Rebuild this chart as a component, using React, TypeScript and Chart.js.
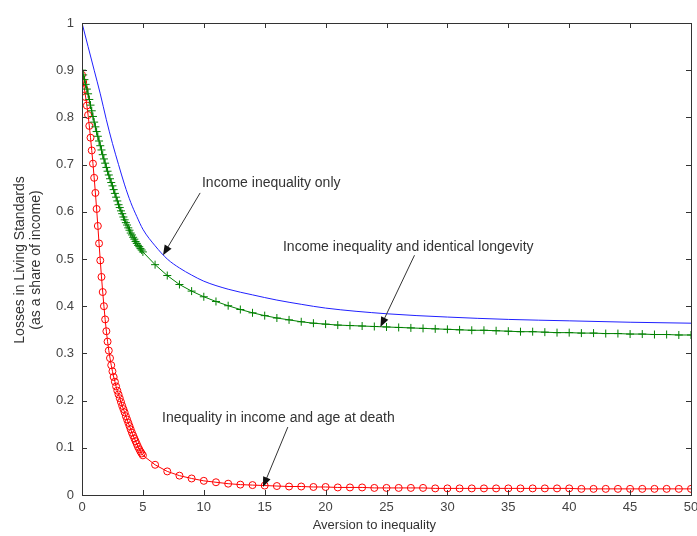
import { useEffect, useRef } from "react";
import { Chart, registerables } from "chart.js";

Chart.register(...registerables);

// Aversion to inequality (x) — dense sampling 0..5, then integer steps 6..50
const denseX = [
  0, 0.1, 0.2, 0.3, 0.4, 0.5, 0.6, 0.7, 0.8, 0.9, 1.0, 1.1, 1.2, 1.3, 1.4, 1.5, 1.6, 1.7, 1.8, 1.9,
  2.0, 2.1, 2.2, 2.3, 2.4, 2.5, 2.6, 2.7, 2.8, 2.9, 3.0, 3.1, 3.2, 3.3, 3.4, 3.5, 3.6, 3.7, 3.8, 3.9,
  4.0, 4.1, 4.2, 4.3, 4.4, 4.5, 4.6, 4.7, 4.8, 4.9, 5.0,
];
const sparseX = [
  6, 7, 8, 9, 10, 11, 12, 13, 14, 15, 16, 17, 18, 19, 20, 21, 22, 23, 24, 25, 26, 27, 28, 29, 30,
  31, 32, 33, 34, 35, 36, 37, 38, 39, 40, 41, 42, 43, 44, 45, 46, 47, 48, 49, 50,
];

// Income inequality and identical longevity (green, +)
const greenDense = [
  0.9, 0.89, 0.88, 0.87, 0.86, 0.85, 0.838, 0.826, 0.814, 0.802, 0.79, 0.78, 0.77, 0.76, 0.75, 0.74,
  0.731, 0.721, 0.712, 0.703, 0.694, 0.686, 0.678, 0.67, 0.662, 0.655, 0.647, 0.639, 0.631, 0.623,
  0.615, 0.609, 0.602, 0.596, 0.589, 0.583, 0.577, 0.572, 0.566, 0.561, 0.555, 0.551, 0.546, 0.542,
  0.537, 0.533, 0.529, 0.526, 0.522, 0.519, 0.515,
];
const greenSparse = [
  0.488, 0.465, 0.446, 0.432, 0.42, 0.41, 0.401, 0.393, 0.386, 0.38, 0.375, 0.371, 0.367, 0.364, 0.362,
  0.36, 0.359, 0.358, 0.357, 0.356, 0.355, 0.354, 0.353, 0.352, 0.351, 0.35, 0.349, 0.349, 0.348, 0.347,
  0.346, 0.346, 0.345, 0.344, 0.344, 0.343, 0.343, 0.342, 0.342, 0.341, 0.341, 0.34, 0.34, 0.339, 0.339,
];

// Inequality in income and age at death (red, o)
const redDense = [
  0.89, 0.875, 0.86, 0.843, 0.825, 0.805, 0.782, 0.757, 0.73, 0.702, 0.672, 0.64, 0.606, 0.57, 0.533,
  0.497, 0.462, 0.43, 0.4, 0.372, 0.347, 0.325, 0.306, 0.29, 0.275, 0.262, 0.25, 0.24, 0.23, 0.221,
  0.213, 0.205, 0.197, 0.189, 0.182, 0.175, 0.167, 0.16, 0.153, 0.146, 0.139, 0.132, 0.126, 0.12,
  0.114, 0.108, 0.102, 0.097, 0.092, 0.088, 0.084,
];
const redSparse = [
  0.064, 0.05, 0.041, 0.035, 0.03, 0.027, 0.024, 0.022, 0.021, 0.02, 0.019, 0.018, 0.018, 0.017, 0.017,
  0.016, 0.016, 0.016, 0.015, 0.015, 0.015, 0.015, 0.015, 0.014, 0.014, 0.014, 0.014, 0.014, 0.014, 0.014,
  0.014, 0.014, 0.014, 0.014, 0.014, 0.013, 0.013, 0.013, 0.013, 0.013, 0.013, 0.013, 0.013, 0.013, 0.013,
];

// Income inequality only (blue line)
const blueX = [0, 0.5, 1, 1.5, 2, 2.5, 3, 3.5, 4, 4.5, 5, 6, 7, 8, 9, 10, 12, 14, 16, 18, 20, 25, 30, 35, 40, 45, 50];
const blueY = [
  1.0, 0.95, 0.9, 0.85, 0.795, 0.745, 0.7, 0.657, 0.62, 0.59, 0.563, 0.528, 0.5, 0.481, 0.466, 0.453,
  0.436, 0.424, 0.413, 0.404, 0.396, 0.384, 0.377, 0.372, 0.369, 0.366, 0.364,
];

// Annotations: text anchor and arrow (tail -> head) in data coordinates
const annotationTexts = [
  "Income inequality only",
  "Income inequality and identical longevity",
  "Inequality in income and age at death",
];
const annotationTextPos = [
  [9.85, 0.661],
  [16.5, 0.525],
  [6.57, 0.163],
];
const annotationArrows = [
  [9.7, 0.64, 6.65, 0.508],
  [27.3, 0.508, 24.5, 0.356],
  [16.9, 0.144, 14.86, 0.017],
];

const xTitle = "Aversion to inequality";
const yTitleLines = ["Losses in Living Standards", "(as a share of income)"];

const FONT = '"Liberation Sans", Arial, sans-serif';

function zip(xs: number[], ys: number[]) {
  return xs.map((x, i) => ({ x, y: ys[i] }));
}

export default function App() {
  const ref = useRef<HTMLCanvasElement | null>(null);

  useEffect(() => {
    if (!ref.current) return;

    const decor = {
      id: "matlabDecor",
      afterDraw(chart: any) {
        const { ctx, chartArea, scales } = chart;
        const xs = scales.x;
        const ys = scales.y;
        const { left, right, top, bottom } = chartArea;
        ctx.save();
        // box
        ctx.strokeStyle = "#333";
        ctx.lineWidth = 1;
        ctx.strokeRect(Math.round(left) + 0.5, Math.round(top) + 0.5, Math.round(right - left), Math.round(bottom - top));
        // inward ticks
        const tl = 5;
        ctx.beginPath();
        xs.ticks.forEach((t: any) => {
          const px = Math.round(xs.getPixelForValue(t.value)) + 0.5;
          ctx.moveTo(px, bottom);
          ctx.lineTo(px, bottom - tl);
          ctx.moveTo(px, top);
          ctx.lineTo(px, top + tl);
        });
        ys.ticks.forEach((t: any) => {
          const py = Math.round(ys.getPixelForValue(t.value)) + 0.5;
          ctx.moveTo(left, py);
          ctx.lineTo(left + tl, py);
          ctx.moveTo(right, py);
          ctx.lineTo(right - tl, py);
        });
        ctx.stroke();

        // annotations
        ctx.fillStyle = "#333";
        ctx.font = `14px ${FONT}`;
        ctx.textBaseline = "middle";
        ctx.textAlign = "left";
        annotationTexts.forEach((txt, i) => {
          const [tx, ty] = annotationTextPos[i];
          ctx.fillText(txt, xs.getPixelForValue(tx), ys.getPixelForValue(ty));
          const [fx, fy, hx, hy] = annotationArrows[i];
          const x0 = xs.getPixelForValue(fx);
          const y0 = ys.getPixelForValue(fy);
          const x1 = xs.getPixelForValue(hx);
          const y1 = ys.getPixelForValue(hy);
          const ang = Math.atan2(y1 - y0, x1 - x0);
          const hl = 10;
          const hw = 4;
          ctx.strokeStyle = "#333";
          ctx.beginPath();
          ctx.moveTo(x0, y0);
          ctx.lineTo(x1 - Math.cos(ang) * hl * 0.8, y1 - Math.sin(ang) * hl * 0.8);
          ctx.stroke();
          ctx.fillStyle = "#111";
          ctx.beginPath();
          ctx.moveTo(x1, y1);
          ctx.lineTo(x1 - Math.cos(ang) * hl - Math.sin(ang) * hw, y1 - Math.sin(ang) * hl + Math.cos(ang) * hw);
          ctx.lineTo(x1 - Math.cos(ang) * hl + Math.sin(ang) * hw, y1 - Math.sin(ang) * hl - Math.cos(ang) * hw);
          ctx.closePath();
          ctx.fill();
          ctx.fillStyle = "#333";
        });

        // axis titles
        ctx.fillStyle = "#333";
        ctx.font = `13px ${FONT}`;
        ctx.textAlign = "center";
        ctx.textBaseline = "middle";
        ctx.fillText(xTitle, xs.getPixelForValue(24), 525);
        ctx.font = `14px ${FONT}`;
        const cy = (top + bottom) / 2 + 1;
        ctx.translate(0, cy);
        ctx.rotate(-Math.PI / 2);
        ctx.fillText(yTitleLines[0], 0, 20);
        ctx.fillText(yTitleLines[1], 0, 36);
        ctx.restore();
      },
    };

    const chart = new Chart(ref.current, {
      type: "line",
      data: {
        datasets: [
          {
            label: "Income inequality only",
            data: zip(blueX, blueY),
            borderColor: "#2020ff",
            borderWidth: 1,
            pointRadius: 0,
            cubicInterpolationMode: "monotone",
            fill: false,
          },
          {
            label: "Income inequality and identical longevity",
            data: [...zip(denseX, greenDense), ...zip(sparseX, greenSparse)],
            borderColor: "#008000",
            borderWidth: 1,
            pointStyle: "cross",
            pointRadius: 4,
            pointBorderColor: "#008000",
            pointBorderWidth: 1,
            pointBackgroundColor: "rgba(0,0,0,0)",
            fill: false,
          },
          {
            label: "Inequality in income and age at death",
            data: [...zip(denseX, redDense), ...zip(sparseX, redSparse)],
            borderColor: "#ff0000",
            borderWidth: 1,
            pointStyle: "circle",
            pointRadius: 3.5,
            pointBorderColor: "#ff0000",
            pointBorderWidth: 1,
            pointBackgroundColor: "rgba(0,0,0,0)",
            fill: false,
          },
        ],
      },
      options: {
        animation: false,
        responsive: false,
        devicePixelRatio: 1,
        events: [],
        layout: { padding: { top: 23, right: 6, left: 0, bottom: 0 } },
        plugins: { legend: { display: false }, tooltip: { enabled: false }, title: { display: false } },
        scales: {
          x: {
            type: "linear",
            min: 0,
            max: 50,
            grid: { display: false, drawTicks: false },
            border: { display: false },
            ticks: {
              stepSize: 5,
              padding: 5,
              color: "#444",
              font: { family: FONT, size: 13 },
              maxRotation: 0,
              autoSkip: false,
            },
            afterFit(scale: any) {
              scale.height = 41;
              scale.paddingLeft = 0;
              scale.paddingRight = 0;
            },
          },
          y: {
            type: "linear",
            min: 0,
            max: 1,
            grid: { display: false, drawTicks: false },
            border: { display: false },
            ticks: {
              stepSize: 0.1,
              padding: 8,
              color: "#444",
              font: { family: FONT, size: 13 },
              callback: (v: any) => String(Number(Number(v).toFixed(1))),
            },
            afterFit(scale: any) {
              scale.width = 82;
              scale.paddingTop = 0;
              scale.paddingBottom = 0;
            },
          },
        },
      },
      plugins: [decor],
    } as any);

    return () => chart.destroy();
  }, []);

  return (
    <div style={{ position: "fixed", left: 0, top: 0, width: 697, height: 536, background: "#fff" }}>
      <canvas ref={ref} width={697} height={536} style={{ width: 697, height: 536, display: "block" }} />
    </div>
  );
}
